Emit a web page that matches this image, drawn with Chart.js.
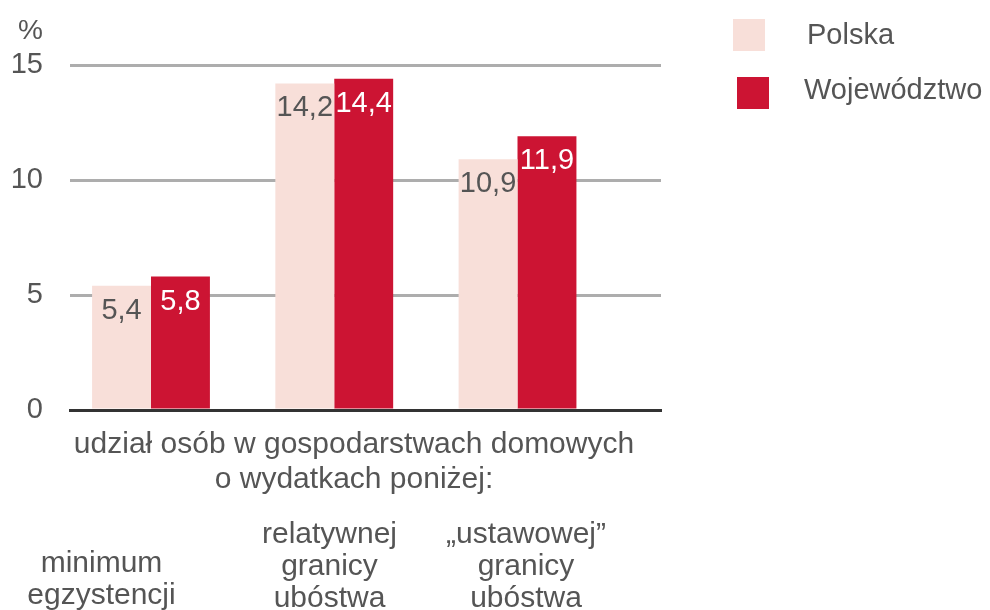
<!DOCTYPE html>
<html>
<head>
<meta charset="utf-8">
<script src="https://cdn.jsdelivr.net/npm/chart.js@4.4.0/dist/chart.umd.min.js"></script>
<style>
  html, body { margin: 0; padding: 0; background: #fff; }
  canvas { display: block; }
</style>
</head>
<body>
<canvas id="povertyChart" width="990" height="610"></canvas>
<script>
// values
const categoryLines = [
  ["minimum", "egzystencji"],
  ["relatywnej", "granicy", "ubóstwa"],
  ["„ustawowej”", "granicy", "ubóstwa"]
];
const seriesNames = ["Polska", "Województwo"];
const polska = [5.4, 14.2, 10.9];
const wojewodztwo = [5.8, 14.4, 11.9];
const yTicks = [0, 5, 10, 15];
const axisCaption = ["udział osób w gospodarstwach domowych", "o wydatkach poniżej:"];
const unitLabel = "%";

const colors = ["#f8dfd9", "#cc1433"];
const FONT = '"Liberation Sans", Arial, sans-serif';
const TEXT = "#555555";

// value labels inside the top of each bar
const barLabels = {
  id: "barLabels",
  afterDatasetsDraw(chart) {
    const ctx = chart.ctx;
    chart.data.datasets.forEach((ds, di) => {
      const meta = chart.getDatasetMeta(di);
      meta.data.forEach((bar, i) => {
        const p = bar.getProps(["x", "y", "base", "width"], true);
        ctx.save();
        ctx.beginPath();
        ctx.rect(p.x - p.width / 2, p.y, p.width, p.base - p.y);
        ctx.clip();
        ctx.font = "29px " + FONT;
        ctx.fillStyle = di === 0 ? TEXT : "#ffffff";
        ctx.textAlign = "center";
        ctx.fillText(ds.data[i].y.toFixed(1).replace(".", ","), p.x, p.y + 33);
        ctx.restore();
      });
    });
  }
};

// unit, caption, category names and legend
const extraText = {
  id: "extraText",
  afterDraw(chart) {
    const ctx = chart.ctx;
    ctx.save();
    ctx.fillStyle = TEXT;
    ctx.textAlign = "right";
    ctx.font = "28px " + FONT;
    ctx.fillText(unitLabel, 43, 39);

    ctx.textAlign = "center";
    ctx.font = "30px " + FONT;
    axisCaption.forEach((t, k) => ctx.fillText(t, 354, 453 + k * 35));

    const centers = [101.5, 329.5, 526];
    const firstLine = [572, 543, 543];
    categoryLines.forEach((lines, c) => {
      lines.forEach((t, k) => ctx.fillText(t, centers[c], firstLine[c] + k * 32));
    });

    // legend
    const boxes = [[733, 19], [737, 77]];
    const textPos = [[807, 44], [804, 99]];
    ctx.textAlign = "left";
    ctx.font = "29px " + FONT;
    seriesNames.forEach((name, k) => {
      ctx.fillStyle = colors[k];
      ctx.fillRect(boxes[k][0], boxes[k][1], 32, 32);
      ctx.fillStyle = TEXT;
      ctx.fillText(name, textPos[k][0], textPos[k][1]);
    });
    ctx.restore();
  }
};

new Chart(document.getElementById("povertyChart"), {
  type: "bar",
  data: {
    datasets: [
      {
        label: seriesNames[0],
        data: polska.map((v, i) => ({ x: i, y: v })),
        backgroundColor: colors[0],
        categoryPercentage: 0.643,
        barPercentage: 1
      },
      {
        label: seriesNames[1],
        data: wojewodztwo.map((v, i) => ({ x: i, y: v })),
        backgroundColor: colors[1],
        categoryPercentage: 0.643,
        barPercentage: 1
      }
    ]
  },
  options: {
    responsive: false,
    animation: false,
    layout: { padding: { left: 0, right: 329, top: 65, bottom: 200 } },
    plugins: { legend: { display: false }, tooltip: { enabled: false } },
    scales: {
      x: {
        type: "linear",
        offset: false,
        min: -0.442,
        max: 2.783,
        afterBuildTicks: s => { s.ticks = categoryLines.map((_, i) => ({ value: i })); },
        ticks: { display: false },
        grid: { display: false },
        border: { display: true, color: "#333333", width: 3, z: 1 },
        afterFit: s => { s.height = 0; }
      },
      y: {
        min: 0,
        max: 15,
        afterBuildTicks: s => { s.ticks = yTicks.map(v => ({ value: v })); },
        ticks: { color: TEXT, font: { family: FONT, size: 29 }, padding: 27 },
        grid: {
          color: c => c.tick.value === 0 ? "rgba(0,0,0,0)" : "#adadad",
          lineWidth: 3,
          drawTicks: false
        },
        border: { display: false },
        afterFit: s => { s.width = 70; }
      }
    }
  },
  plugins: [barLabels, extraText]
});
</script>
</body>
</html>
